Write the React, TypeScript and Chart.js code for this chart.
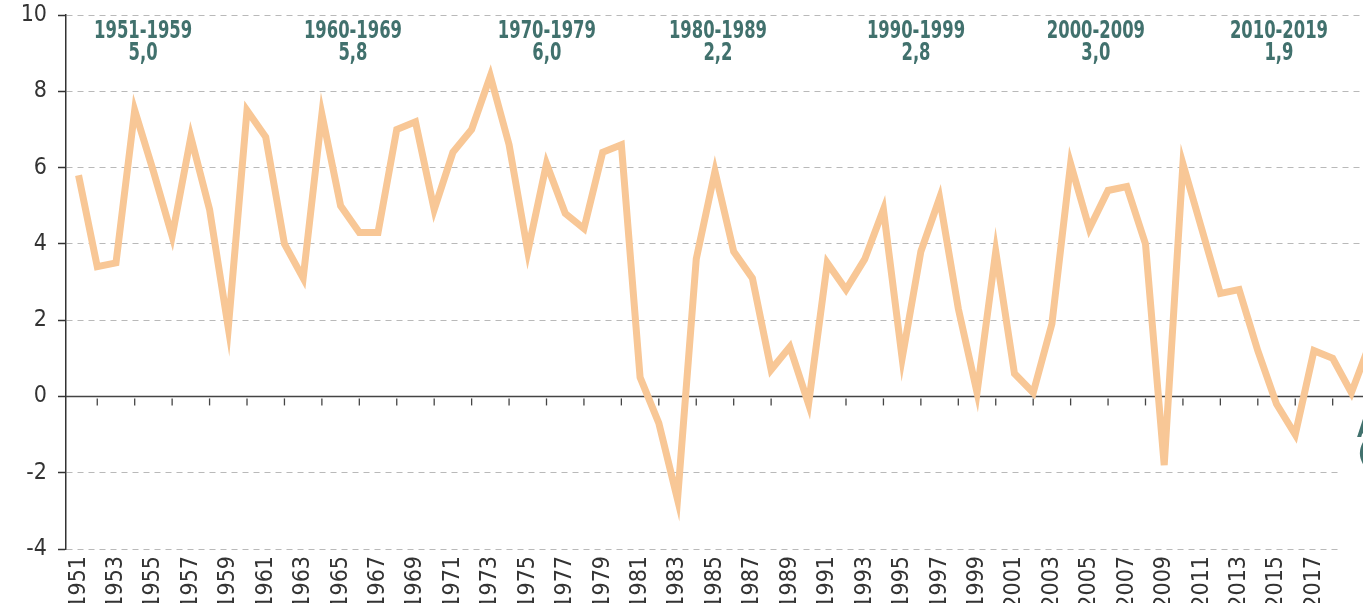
import React, { useEffect, useRef } from "react";
import { Chart, registerables } from "chart.js";

Chart.register(...registerables);

// ---- Data ----
const years: number[] = [
  1951, 1952, 1953, 1954, 1955, 1956, 1957, 1958, 1959, 1960,
  1961, 1962, 1963, 1964, 1965, 1966, 1967, 1968, 1969, 1970,
  1971, 1972, 1973, 1974, 1975, 1976, 1977, 1978, 1979, 1980,
  1981, 1982, 1983, 1984, 1985, 1986, 1987, 1988, 1989, 1990,
  1991, 1992, 1993, 1994, 1995, 1996, 1997, 1998, 1999, 2000,
  2001, 2002, 2003, 2004, 2005, 2006, 2007, 2008, 2009, 2010,
  2011, 2012, 2013, 2014, 2015, 2016, 2017, 2018, 2019, 2020,
];
const growth: number[] = [
  5.8, 3.4, 3.5, 7.5, 5.9, 4.2, 6.8, 4.9, 1.8, 7.5,
  6.8, 4.0, 3.1, 7.4, 5.0, 4.3, 4.3, 7.0, 7.2, 4.9,
  6.4, 7.0, 8.4, 6.6, 3.8, 6.1, 4.8, 4.4, 6.4, 6.6,
  0.5, -0.7, -2.7, 3.6, 5.9, 3.8, 3.1, 0.7, 1.3, -0.2,
  3.5, 2.8, 3.6, 4.9, 1.0, 3.8, 5.2, 2.3, 0.1, 3.8,
  0.6, 0.1, 1.9, 6.1, 4.4, 5.4, 5.5, 4.0, -1.8, 6.1,
  4.4, 2.7, 2.8, 1.2, -0.2, -1.0, 1.2, 1.0, 0.1, 1.4,
];
// x-axis tick labels (odd years only are labelled)
const xTickLabels: number[] = [
  1951, 1953, 1955, 1957, 1959, 1961, 1963, 1965, 1967, 1969,
  1971, 1973, 1975, 1977, 1979, 1981, 1983, 1985, 1987, 1989,
  1991, 1993, 1995, 1997, 1999, 2001, 2003, 2005, 2007, 2009,
  2011, 2013, 2015, 2017,
];
const decadeLabels: string[] = [
  "1951-1959", "1960-1969", "1970-1979", "1980-1989", "1990-1999", "2000-2009", "2010-2019",
];
const decadeAverages: string[] = ["5,0", "5,8", "6,0", "2,2", "2,8", "3,0", "1,9"];
// anchor (in year units on the x scale) for each decade annotation
const decadeAnchors: number[] = [1954.45, 1965.66, 1976.02, 1985.16, 1995.74, 2005.35, 2015.13];
const yTicks: number[] = [-4, -2, 0, 2, 4, 6, 8, 10];
const X_MIN = 1950.33;
const X_MAX = 2019.62;

const FONT = "'Liberation Sans Narrow', 'Arial Narrow', 'DejaVu Sans Condensed', 'Roboto Condensed', Roboto, sans-serif";
const TEAL = "#41716d";
const AXIS = "#333333";
const LINE = "#f8c796";

const overlayPlugin = {
  id: "overlay",
  beforeDatasetsDraw(chart: any) {
    const { ctx, chartArea, scales } = chart;
    const xs = scales.x;
    const ys = scales.y;
    ctx.save();
    // white box behind the cut-off annotation at right
    const boxTop = ys.getPixelForValue(-0.25);
    ctx.fillStyle = "#ffffff";
    ctx.fillRect(1338, boxTop, 30, chartArea.bottom + 4 - boxTop);
    // zero line
    const y0 = ys.getPixelForValue(0);
    ctx.strokeStyle = "#444444";
    ctx.lineWidth = 1.5;
    ctx.beginPath();
    ctx.moveTo(chartArea.left, y0);
    ctx.lineTo(chartArea.right, y0);
    ctx.stroke();
    // small tick marks at even years
    ctx.lineWidth = 1.3;
    for (const yr of years) {
      if (yr % 2 === 0) {
        const x = xs.getPixelForValue(yr);
        if (x > chartArea.right) continue;
        ctx.beginPath();
        ctx.moveTo(x, y0 + 2);
        ctx.lineTo(x, y0 + 9);
        ctx.stroke();
      }
    }
    ctx.restore();
  },
  afterDraw(chart: any) {
    const { ctx, scales } = chart;
    const xs = scales.x;
    ctx.save();
    ctx.fillStyle = TEAL;
    ctx.textAlign = "center";
    ctx.textBaseline = "middle";
    ctx.font = `bold 24px ${FONT}`;
    const sx = 0.76;
    decadeLabels.forEach((lab, i) => {
      const x = xs.getPixelForValue(decadeAnchors[i]);
      ctx.save();
      ctx.translate(x, 0);
      ctx.scale(sx, 1);
      ctx.fillText(lab, 0, 32);
      ctx.fillText(decadeAverages[i], 0, 54);
      ctx.restore();
    });
    // cut-off annotation at the right edge
    ctx.textAlign = "left";
    ctx.fillText("A", 1357, 431);
    ctx.fillText("(", 1358, 455);
    ctx.restore();
  },
};

export default function App() {
  const canvasRef = useRef<HTMLCanvasElement | null>(null);

  useEffect(() => {
    if (!canvasRef.current) return;
    const chart = new Chart(canvasRef.current, {
      type: "line",
      data: {
        datasets: [
          {
            data: years.map((y, i) => ({ x: y, y: growth[i] })),
            borderColor: LINE,
            borderWidth: 7,
            pointRadius: 0,
            tension: 0,
            fill: false,
            borderJoinStyle: "miter",
          },
        ],
      },
      options: {
        animation: false,
        responsive: true,
        maintainAspectRatio: false,
        layout: { padding: { top: 15, right: 0, left: 0, bottom: 0 } },
        plugins: { legend: { display: false }, tooltip: { enabled: false } },
        scales: {
          x: {
            type: "linear",
            min: X_MIN,
            max: X_MAX,
            grid: { display: false, drawTicks: false },
            border: { display: false },
            afterBuildTicks: (s: any) => {
              s.ticks = xTickLabels.map((v) => ({ value: v }));
            },
            afterFit: (s: any) => {
              s.height = 54;
              s.paddingLeft = 0;
              s.paddingRight = 0;
            },
            ticks: {
              autoSkip: false,
              maxRotation: 90,
              minRotation: 90,
              padding: 7,
              color: AXIS,
              font: { family: FONT, size: 23 },
              callback: (v: any) => String(v),
            },
          },
          y: {
            min: -4,
            max: 10,
            afterBuildTicks: (s: any) => {
              s.ticks = yTicks.map((v) => ({ value: v }));
            },
            afterFit: (s: any) => {
              s.width = 66;
              s.paddingTop = 0;
              s.paddingBottom = 0;
            },
            grid: {
              color: "#b9b9b9",
              lineWidth: 1,
              drawTicks: true,
              tickLength: 8,
              tickColor: AXIS,
              tickWidth: 1.5,
              tickBorderDash: [],
            },
            border: { display: true, color: AXIS, width: 1.5, dash: [6, 5] },
            ticks: {
              padding: 11,
              color: AXIS,
              font: { family: FONT, size: 23 },
              callback: (v: any) => String(v),
            },
          },
        },
      },
      plugins: [overlayPlugin],
    });
    return () => chart.destroy();
  }, []);

  return (
    <div style={{ position: "fixed", left: 0, top: 0, width: 1363, height: 603, background: "#fff" }}>
      <canvas ref={canvasRef} />
    </div>
  );
}
